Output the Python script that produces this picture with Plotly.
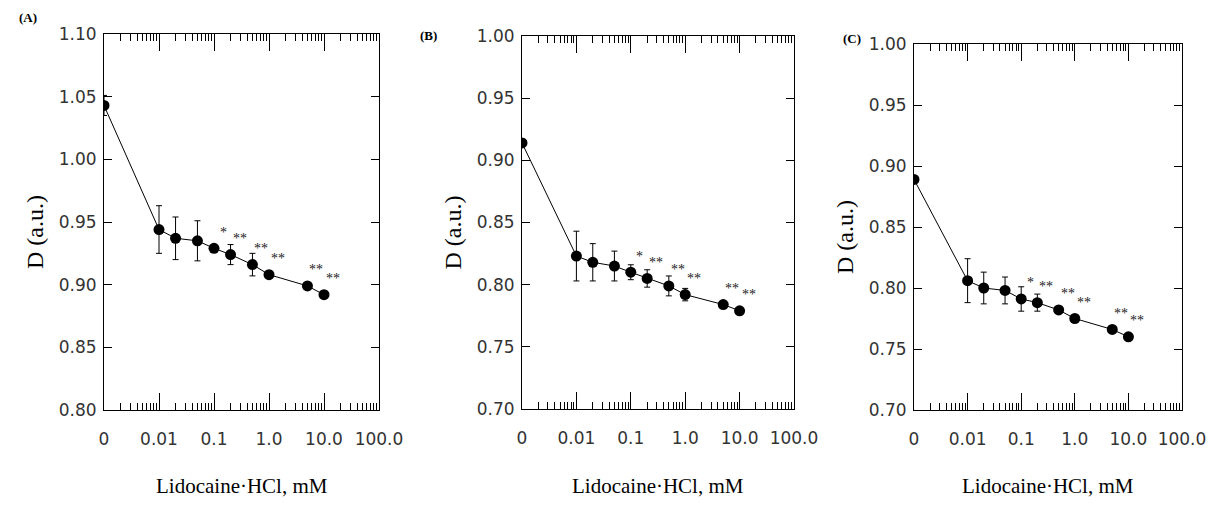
import math
import plotly.graph_objects as go

# ---- data ----
conc_mM = [0, 0.01, 0.02, 0.05, 0.1, 0.2, 0.5, 1.0, 5.0, 10.0]
sig = ["", "", "", "", "*", "**", "**", "**", "**", "**"]

D_A = [1.043, 0.944, 0.937, 0.935, 0.929, 0.924, 0.916, 0.908, 0.899, 0.892]
err_A = [0.008, 0.019, 0.017, 0.016, 0.003, 0.008, 0.009, 0.003, 0.002, 0.002]

D_B = [0.914, 0.823, 0.818, 0.815, 0.810, 0.805, 0.799, 0.792, 0.784, 0.779]
err_B = [0.002, 0.020, 0.015, 0.012, 0.006, 0.007, 0.008, 0.005, 0.002, 0.002]

D_C = [0.889, 0.806, 0.800, 0.798, 0.791, 0.788, 0.782, 0.775, 0.766, 0.760]
err_C = [0.002, 0.018, 0.013, 0.011, 0.010, 0.007, 0.003, 0.002, 0.002, 0.002]

panels = ["(A)", "(B)", "(C)"]
y_ranges = [(0.80, 1.10), (0.70, 1.00), (0.70, 1.00)]

x_tickvals = [0.001, 0.01, 0.1, 1, 10, 100]
x_ticktext = ["0", "0.01", "0.1", "1.0", "10.0", "100.0"]

# ---- layout geometry ----
W, H = 1226, 505
frames = [  # left, right, top, bottom in px
    (104, 379, 34, 410),
    (522, 794, 36, 409),
    (914, 1182, 44, 410),
]
label_pos = [(28, 17), (428, 35), (852, 39)]

x_plot = [c if c > 0 else 0.001 for c in conc_mM]
minor_vals = [m * 10 ** e for e in range(-3, 2) for m in range(2, 10)]

fig = go.Figure()
series = [(D_A, err_A), (D_B, err_B), (D_C, err_C)]
tick_font = dict(family="DejaVu Sans", size=17, color="#333333")

for i, (ys, es) in enumerate(series):
    xa = "x" if i == 0 else f"x{i+1}"
    ya = "y" if i == 0 else f"y{i+1}"
    fig.add_trace(go.Scatter(
        x=x_plot, y=ys, mode="lines+markers",
        xaxis=xa, yaxis=ya,
        line=dict(color="black", width=1),
        marker=dict(color="black", size=11),
        error_y=dict(type="data", array=es, visible=True, color="black",
                     thickness=1, width=3),
        showlegend=False,
    ))
    l, r, t, b = frames[i]
    xdom = [l / W, r / W]
    ydom = [1 - b / H, 1 - t / H]
    lo, hi = y_ranges[i]
    xkey = "xaxis" if i == 0 else f"xaxis{i+1}"
    ykey = "yaxis" if i == 0 else f"yaxis{i+1}"
    fig.update_layout(**{
        xkey: dict(
            type="log", domain=xdom, range=[-3, 2], anchor=ya,
            tickmode="array", tickvals=x_tickvals, ticktext=x_ticktext,
            ticks="inside", ticklen=17, tickwidth=1, tickcolor="black",
            mirror="ticks", showline=True, linecolor="black", linewidth=1,
            showgrid=False, zeroline=False, tickfont=tick_font,
            ticklabelstandoff=14, automargin=False,
            minor=dict(tickmode="array", tickvals=minor_vals, ticks="inside",
                       ticklen=7, tickwidth=1, tickcolor="black", showgrid=False),
        ),
        ykey: dict(
            domain=ydom, range=[lo, hi], anchor=xa,
            tickmode="linear", tick0=lo, dtick=0.05, tickformat=".2f",
            ticks="inside", ticklen=8, tickwidth=1, tickcolor="black",
            mirror="ticks", showline=True, linecolor="black", linewidth=1,
            showgrid=False, zeroline=False, tickfont=tick_font,
            ticklabelstandoff=3, automargin=False,
        ),
    })
    # axis titles
    fig.add_annotation(text="D (a.u.)", textangle=-90, showarrow=False,
                       xref="paper", yref="paper", xanchor="center", yanchor="middle",
                       x=(l - 69) / W, y=1 - ((t + b) / 2 + 10) / H,
                       font=dict(family="Liberation Serif", size=24, color="black"))
    fig.add_annotation(text="Lidocaine·HCl, mM", showarrow=False,
                       xref="paper", yref="paper", xanchor="center", yanchor="middle",
                       x=(l + r) / 2 / W, y=1 - 486 / H,
                       font=dict(family="Liberation Serif", size=21, color="black"))
    lx, ly = label_pos[i]
    fig.add_annotation(text="<b>" + panels[i] + "</b>", showarrow=False,
                       xref="paper", yref="paper", xanchor="center", yanchor="middle",
                       x=lx / W, y=1 - ly / H,
                       font=dict(family="Liberation Serif", size=13, color="black"))
    # significance marks (annotation x on a log axis is given in log10 units)
    for xv, yv, s in zip(x_plot, ys, sig):
        if s:
            fig.add_annotation(text=s, x=math.log10(xv), y=yv, xref=xa, yref=ya,
                               showarrow=False, xshift=9, yshift=16,
                               font=dict(family="Liberation Serif", size=14,
                                         color="#222222"))

fig.update_layout(width=W, height=H,
                  margin=dict(l=0, r=0, t=0, b=0, pad=0, autoexpand=False),
                  paper_bgcolor="white", plot_bgcolor="white")
fig.write_html("out.html", config={"displayModeBar": False},
               post_script="document.body.style.margin='0';document.body.style.overflow='hidden';")
